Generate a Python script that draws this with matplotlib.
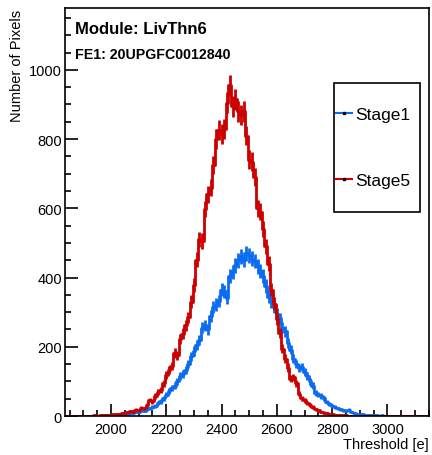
import numpy as np
import matplotlib.pyplot as plt
from matplotlib.lines import Line2D
from matplotlib.patches import Rectangle
from matplotlib.ticker import MultipleLocator

plt.rcParams['font.family'] = ['Liberation Sans', 'DejaVu Sans']

# histogram binning (10 e per bin, first bin centre at 1840 e)
bin_lo = 1840
bin_w = 10

# Stage1 counts per bin (1840 ... 3150)
stage1 = [
    0, 0, 0, 0, 0, 1, 0, 0, 1, 0, 1, 1, 1, 2, 1, 2,
    2, 3, 3, 4, 5, 5, 7, 8, 10, 11,
    13, 16, 15, 19, 22, 26, 30, 37, 42, 52,
    62, 72, 80, 88, 100, 115, 122, 133, 150, 172,
    188, 205, 220, 255, 262, 250, 290, 315, 322, 332,
    365, 360, 342, 405, 415, 435, 450, 462, 452, 470,
    465, 455, 448, 432, 420, 405, 375, 345, 330, 315,
    295, 282, 255, 245, 210, 192, 165, 150, 138, 142,
    128, 116, 100, 88, 66, 62, 58, 52, 40, 35,
    30, 26, 22, 20, 16, 14, 18, 12, 8, 7,
    6, 5, 4, 4, 3, 2, 2, 1, 2, 1,
    1, 1, 0, 1, 0, 0, 1, 0, 0, 0,
    0, 0, 0, 0, 0, 0, 0, 0, 0, 0,
    0, 0,
]

# Stage5 counts per bin (1840 ... 3150)
stage5 = [
    0, 0, 0, 0, 0, 1, 0, 1, 0, 1, 2, 1, 2, 2, 3, 4,
    4, 5, 7, 6, 9, 8, 11, 14, 13, 18,
    17, 24, 22, 33, 46, 42, 58, 70, 74, 95,
    118, 134, 145, 182, 175, 222, 238, 262, 285, 330,
    378, 452, 510, 505, 598, 640, 660, 725, 800, 825,
    815, 830, 905, 955, 895, 915, 880, 870, 880, 810,
    740, 735, 690, 600, 590, 540, 490, 440, 365, 325,
    280, 240, 195, 165, 140, 108, 112, 95, 65, 52,
    45, 38, 33, 26, 20, 16, 12, 10, 8, 7,
    6, 4, 3, 3, 2, 2, 1, 1, 1, 0,
    1, 0, 0, 1, 0, 0, 0, 0, 0, 0,
    0, 0, 0, 0, 0, 0, 0, 0, 0, 0,
    0, 0, 0, 0, 0, 0, 0, 0, 0, 0,
    0, 0,
]

labels = ['Stage1', 'Stage5']
colors = ['#0b6cf2', '#cc0000']

fig = plt.figure(figsize=(4.32, 4.56), dpi=100)
ax = fig.add_axes([0.150, 0.0855, 0.843, 0.895])

handles = []
for counts, lab, col in zip([stage1, stage5], labels, colors):
    y = np.array(counts, dtype=float)
    x = bin_lo + bin_w * np.arange(len(y))
    ax.step(x, y, where='mid', color=col, lw=2.0)
    ax.errorbar(x, y, yerr=np.sqrt(y), fmt='none',
                ecolor=col, elinewidth=2.0, capsize=0)
    handles.append(Line2D([], [], color=col, lw=1.5, marker='s',
                          markersize=1.5, markerfacecolor='black',
                          markeredgecolor='black'))

ax.set_xlim(1833, 3150)
ax.set_ylim(0, 1179)

ax.xaxis.set_major_locator(MultipleLocator(200))
ax.xaxis.set_minor_locator(MultipleLocator(50))
ax.yaxis.set_major_locator(MultipleLocator(200))
ax.yaxis.set_minor_locator(MultipleLocator(50))
ax.tick_params(which='both', direction='in', top=False, right=False,
               labelsize=10.5, width=1.2)
ax.tick_params(which='major', length=9)
ax.tick_params(which='minor', length=4.5)
ax.tick_params(axis='x', pad=4)
ax.tick_params(axis='y', pad=2)
for sp in ax.spines.values():
    sp.set_linewidth(1.2)

fig.text(429 / 432, 1 - 445 / 456, 'Threshold [e]', ha='right', va='center',
         fontsize=10.5)
fig.text(17 / 432, 1 - 10 / 456, 'Number of Pixels', ha='center', va='top',
         rotation=90, fontsize=10.5)

ax.text(0.027, 0.949, 'Module: LivThn6', transform=ax.transAxes,
        fontsize=12, fontweight='bold', ha='left', va='center')
ax.text(0.027, 0.887, 'FE1: 20UPGFC0012840', transform=ax.transAxes,
        fontsize=10.2, fontweight='bold', ha='left', va='center')

# legend box (ROOT TLegend style)
ax.add_patch(Rectangle((0.739, 0.5), 0.236, 0.316, transform=ax.transAxes,
                       facecolor='white', edgecolor='black', lw=1.2,
                       zorder=4))
leg = ax.legend(handles, labels, loc='center left',
                bbox_to_anchor=(0.745, 0.658), frameon=False,
                borderaxespad=0, borderpad=0,
                fontsize=12.5, handlelength=0.9, handletextpad=0.2,
                labelspacing=2.9)
leg.set_zorder(5)

fig.savefig('out.png', dpi=100)
